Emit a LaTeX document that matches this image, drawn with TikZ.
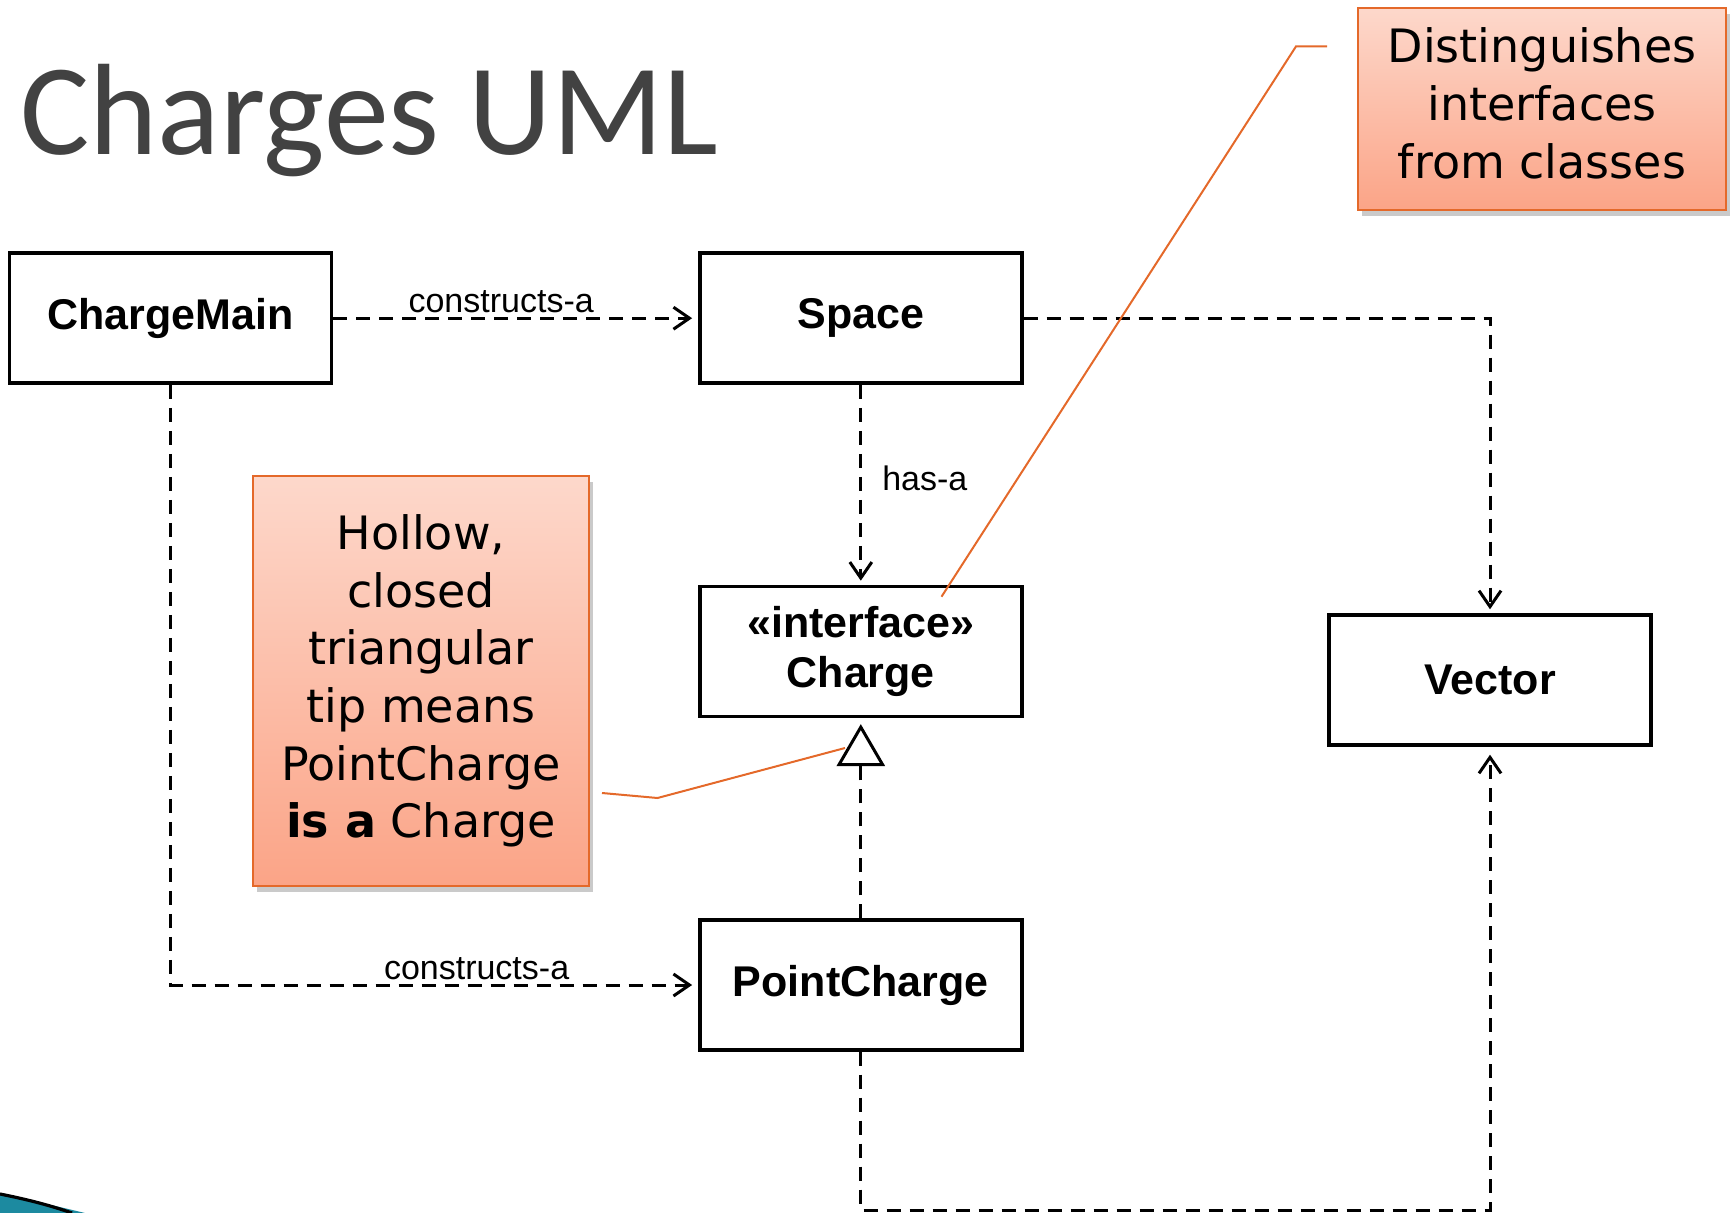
\documentclass[tikz,border=0pt]{standalone}
\usepackage{fontspec}
\setmainfont{Liberation Sans}
\newfontfamily\notefont{DejaVu Sans}
\newfontfamily\titlefont{Carlito}
\usetikzlibrary{arrows.meta,shadows,calc}
\definecolor{noteorange}{HTML}{E4692A}
\definecolor{notetop}{HTML}{FDD8CB}
\definecolor{notebot}{HTML}{FBA487}
\definecolor{titlegray}{HTML}{424242}
\definecolor{swooshcol}{HTML}{1C8AA0}
\begin{document}
\begin{tikzpicture}[x=0.5pt,y=-0.5pt,
  cls/.style={draw=black, line width=1.7pt, fill=white, minimum width=161pt, minimum height=65pt,
    font=\fontsize{21.5}{25}\selectfont\bfseries, align=center, inner sep=0pt},
  dep/.style={line width=1.5pt, dash pattern=on 7pt off 4.5pt,
    -{Straight Barb[length=8pt,width=11pt,line width=1.5pt]}},
  realize/.style={line width=1.5pt, dash pattern=on 7pt off 4.5pt,
    -{Triangle[open,length=21pt,width=24pt,line width=1.5pt]}},
  lbl/.style={font=\fontsize{17}{20}\selectfont, inner sep=1pt},
  note/.style={draw=noteorange, line width=1.2pt, top color=notetop, bottom color=notebot,
    font=\notefont\fontsize{23}{28.8}\selectfont, align=center,
    drop shadow={shadow xshift=2pt, shadow yshift=-3pt, opacity=0.35, fill=black!60}},
  callout/.style={draw=noteorange, line width=1pt}]

\useasboundingbox (0,0) rectangle (1733,1213);

% title
\node (title) [anchor=base west, inner sep=0pt, font=\titlefont\fontsize{65}{70}\selectfont,
  text=titlegray] at (20,155) {Charges UML};

% swoosh
\fill[swooshcol] (0,1194) .. controls (30,1200) and (60,1207) .. (85,1213) -- (0,1213) -- cycle;
\draw[black, line width=1.6pt] (0,1194) .. controls (30,1200) and (52,1206) .. (72,1213);

% classes
\node[cls] (cm) at (170.7,318.2) {ChargeMain};
\node[cls] (space) at (860.8,318.2) {Space};
\node[cls] (charge) at (860.8,651.4) {«interface»\\Charge};
\node[cls] (vector) at (1490,680) {Vector};
\node[cls] (pc) at (860.8,985) {PointCharge};

\coordinate (bot) at (860.8,1210);

% connectors
\draw[dep, shorten >=3pt] (cm.east) -- node[lbl, above, pos=0.46, yshift=1pt] (l1) {constructs-a} (space.west);
\draw[dep, shorten >=2pt] (space.east) -| (vector.north);
\draw[dep, shorten >=2pt] (space.south) -- node[lbl, anchor=west, pos=0.47, xshift=9pt] (l2) {has-a} (charge.north);
\draw[dep, shorten >=3pt] (cm.south) |- node[lbl, above, pos=0.79, yshift=1pt] (l3) {constructs-a} (pc.west);
\draw[realize, shorten >=3pt] (pc.north) -- (charge.south);
\draw[dep, shorten >=4pt] (pc.south) -- (bot) -| (vector.south);

% notes
\node[note, minimum width=184pt, minimum height=101pt] (n1) at (1542,109)
  {\raisebox{2.2pt}{\begin{tabular}{@{}c@{}}Distinguishes\\interfaces\\from classes\end{tabular}}};
\node[note, minimum width=168pt, minimum height=205pt] (n2) at (421,681)
  {Hollow,\\closed\\triangular\\tip means\\PointCharge\\{\bfseries is a} Charge};

% callout lines
\coordinate (d1) at (1327,46.4);
\coordinate (d2) at (1296,46.4);
\coordinate (d3) at (941.5,596.7);
\draw[callout] (d1) -- (d2) -- (d3);
\coordinate (h1) at (602,793);
\coordinate (h2) at (657.5,798);
\coordinate (h3) at (845,748);
\draw[callout] (h1) -- (h2) -- (h3);
\end{tikzpicture}
\end{document}
